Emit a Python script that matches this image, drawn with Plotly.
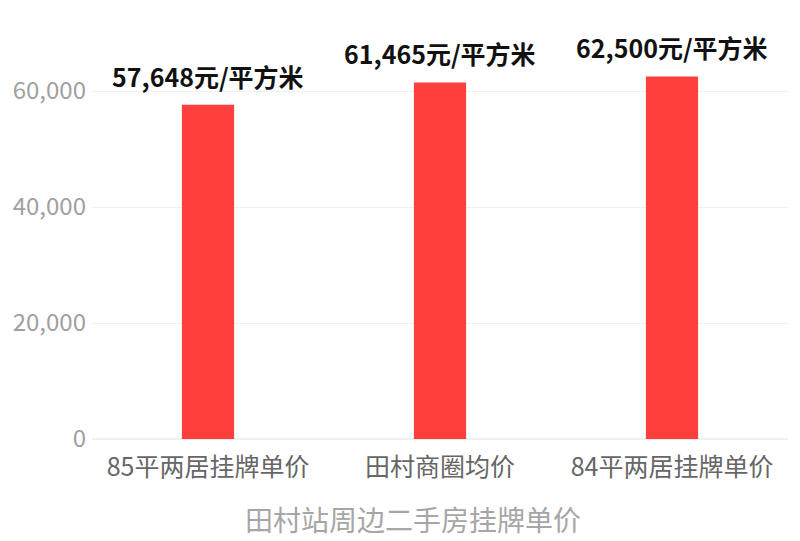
import plotly.graph_objects as go

categories = ['85平两居挂牌单价', '田村商圈均价', '84平两居挂牌单价']
prices = [57648, 61465, 62500]
bar_labels = ['57,648元/平方米', '61,465元/平方米', '62,500元/平方米']
y_ticks = [0, 20000, 40000, 60000]
y_tick_text = ['0', '20,000', '40,000', '60,000']
x_title = '田村站周边二手房挂牌单价'

font_family = 'Noto Sans CJK SC'

fig = go.Figure(
    go.Bar(
        x=categories,
        y=prices,
        marker=dict(color='#FF3F3B', line=dict(width=0)),
        width=0.225,
        hoverinfo='x+y',
    )
)

# value labels sit a little above each bar
for cat, val, lab in zip(categories, prices, bar_labels):
    fig.add_annotation(
        x=cat, y=val, text='<b>%s</b>' % lab,
        showarrow=False, yanchor='bottom', yshift=9,
        font=dict(family=font_family, size=25, color='#111111'),
    )

# axis title is a bit left of the plot centre in the original
fig.add_annotation(
    xref='paper', yref='paper', x=0.461, y=0,
    xanchor='center', yanchor='top', yshift=-58,
    text=x_title, showarrow=False,
    font=dict(family=font_family, size=28, color='#A6A6A6'),
)

# page body adds 8px, margins are set to make up for it
fig.update_layout(
    width=800,
    height=541,
    margin=dict(l=84, r=20, t=25, b=110),
    plot_bgcolor='white',
    paper_bgcolor='white',
    showlegend=False,
    font=dict(family=font_family),
    xaxis=dict(
        tickfont=dict(family=font_family, size=25, color='#666666'),
        ticklabelstandoff=11,
        showgrid=False,
        showline=False,
        ticks='',
        automargin=False,
    ),
    yaxis=dict(
        range=[0, 70000],
        tickvals=y_ticks,
        ticktext=y_tick_text,
        tickfont=dict(family=font_family, size=24, color='#A0A0A0'),
        ticklabelstandoff=5,
        gridcolor='#F0F0F0',
        zeroline=True,
        zerolinecolor='#F0F0F0',
        showline=False,
        ticks='',
        automargin=False,
    ),
)

fig.write_html('out.html')
